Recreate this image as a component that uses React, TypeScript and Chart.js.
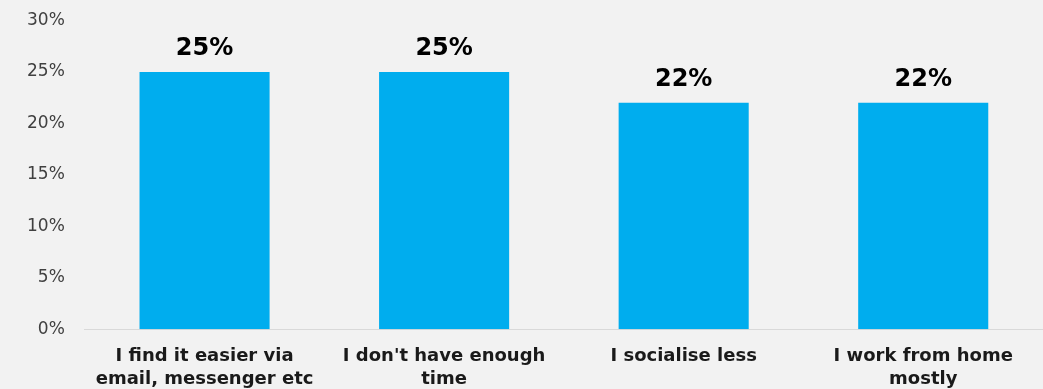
import React, { useEffect, useRef } from "react";
import { Chart, registerables } from "chart.js";

Chart.register(...registerables);

const categories: string[][] = [
  ["I find it easier via", "email, messenger etc"],
  ["I don't have enough", "time"],
  ["I socialise less"],
  ["I work from home", "mostly"],
];
const values: number[] = [25, 25, 22, 22];
const yTicks: number[] = [0, 5, 10, 15, 20, 25, 30];

const FONT = "'DejaVu Sans', 'Open Sans', sans-serif";

const valueLabels = {
  id: "valueLabels",
  afterDatasetsDraw(chart: any) {
    const ctx = chart.ctx;
    const meta = chart.getDatasetMeta(0);
    ctx.save();
    ctx.fillStyle = "#000000";
    ctx.font = `bold 24px ${FONT}`;
    ctx.textAlign = "center";
    ctx.textBaseline = "bottom";
    meta.data.forEach((el: any, i: number) => {
      ctx.fillText(`${values[i]}%`, el.x, el.y - 11);
    });
    ctx.restore();
  },
};

export default function App() {
  const ref = useRef<HTMLCanvasElement>(null);
  useEffect(() => {
    document.body.style.margin = "0";
    document.body.style.background = "#f2f2f2";
    const chart = new Chart(ref.current!, {
      type: "bar",
      data: {
        labels: categories,
        datasets: [
          {
            data: values,
            backgroundColor: "#00adee",
            categoryPercentage: 1,
            barPercentage: 0.543,
          },
        ],
      },
      plugins: [valueLabels],
      options: {
        animation: false,
        responsive: false,
        maintainAspectRatio: false,
        layout: { padding: { top: -1, right: -5, left: 15, bottom: -9 } },
        plugins: { legend: { display: false }, tooltip: { enabled: false } },
        scales: {
          x: {
            grid: { display: false },
            border: { display: true, color: "#d9d9d9", width: 1 },
            ticks: {
              color: "#1a1a1a",
              font: { family: FONT, size: 18, weight: "bold", lineHeight: 1.3 },
              padding: 7,
              maxRotation: 0,
              autoSkip: false,
            },
          },
          y: {
            min: 0,
            max: 30,
            afterBuildTicks: (scale: any) => {
              scale.ticks = yTicks.map((v) => ({ value: v }));
            },
            grid: { display: false },
            border: { display: false },
            ticks: {
              color: "#404040",
              font: { family: FONT, size: 17, lineHeight: 1 },
              padding: 12,
              callback: (v: any) => `${v}%`,
            },
          },
        },
      },
    });
    return () => chart.destroy();
  }, []);
  return (
    <div style={{ width: 1043, height: 389, background: "#f2f2f2", overflow: "hidden" }}>
      <canvas ref={ref} width={1043} height={389} style={{ display: "block" }} />
    </div>
  );
}
